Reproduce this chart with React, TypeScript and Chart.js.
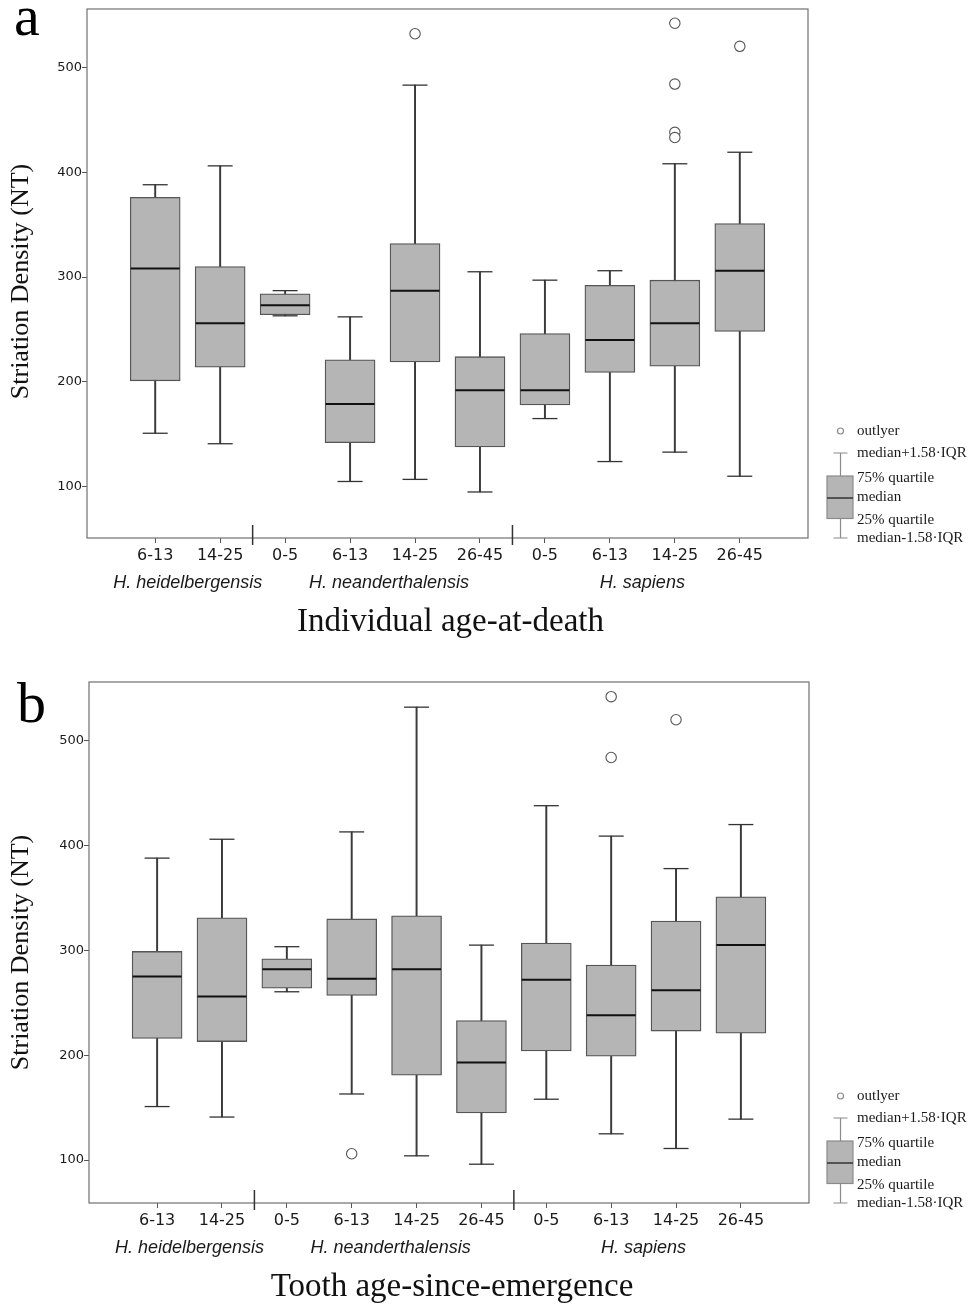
import React, { useEffect, useRef } from 'react';
import { Chart, registerables } from 'chart.js';

Chart.register(...registerables);

// ---------- shared categories ----------
const ageLabels = ['6-13', '14-25', '0-5', '6-13', '14-25', '26-45', '0-5', '6-13', '14-25', '26-45'];
const speciesNames = ['H. heidelbergensis', 'H. neanderthalensis', 'H. sapiens'];
const speciesCenters = [0.5, 3.6, 7.5];
const groupBreaks = [1.5, 5.5];
const yTickValues = [100, 200, 300, 400, 500];

// ---------- panel a: Individual age-at-death ----------
const aMin = [151, 141, 263, 105, 107, 95, 165, 124, 133, 110];
const aQ1 = [201, 214, 264, 142, 219, 138, 178, 209, 215, 248];
const aMedian = [308, 256, 273, 179, 287, 192, 192, 240, 256, 306];
const aQ3 = [376, 310, 284, 221, 332, 224, 246, 292, 297, 351];
const aMax = [388, 406, 287, 262, 483, 305, 297, 306, 408, 419];
const aOutliers: number[][] = [[], [], [], [], [532], [], [], [], [542, 484, 438, 433], [520]];

// ---------- panel b: Tooth age-since-emergence ----------
const bMin = [151, 141, 260.5, 163, 104, 96, 158, 125, 111, 139];
const bQ1 = [216, 213, 264, 257, 181, 145, 204, 199, 223, 221];
const bMedian = [275, 256, 282, 273, 282, 193, 272, 238, 262, 305];
const bQ3 = [299, 331, 292, 330, 333, 233, 307, 286, 328, 351];
const bMax = [388, 406, 303.5, 413, 532, 305, 438, 409, 378, 420];
const bOutliers: number[][] = [[], [], [], [106], [], [], [], [542, 484], [520], []];

const legendItems = ['outlyer', 'median+1.58\u00B7IQR', '75% quartile', 'median', '25% quartile', 'median-1.58\u00B7IQR'];

interface PanelSpec {
  letter: string;
  xTitle: string;
  min: number[];
  q1: number[];
  med: number[];
  q3: number[];
  max: number[];
  outliers: number[][];
  yMin: number;
  yMax: number;
  padTop: number;
  padRight: number;
  yWidth: number;
  xHeight: number;
  letterX: number;
  letterY: number;
  yTitleShift: number;
}

function decorPlugin(p: PanelSpec) {
  return {
    id: 'panelDecor',
    afterDraw(chart: any) {
      const { ctx, chartArea: ca } = chart;
      const xs = chart.scales.x;
      ctx.save();
      // frame
      ctx.strokeStyle = '#707070';
      ctx.lineWidth = 1.2;
      ctx.strokeRect(ca.left, ca.top, ca.right - ca.left, ca.bottom - ca.top);
      // group separators
      ctx.strokeStyle = '#333';
      ctx.lineWidth = 1.5;
      groupBreaks.forEach((g) => {
        const px = xs.getPixelForValue(g);
        ctx.beginPath();
        ctx.moveTo(px, ca.bottom - 13);
        ctx.lineTo(px, ca.bottom + 7);
        ctx.stroke();
      });
      // species labels
      ctx.fillStyle = '#1a1a1a';
      ctx.textAlign = 'center';
      ctx.textBaseline = 'middle';
      ctx.font = 'italic 18px "Liberation Sans", Arial, sans-serif';
      speciesNames.forEach((s, i) => {
        ctx.fillText(s, xs.getPixelForValue(speciesCenters[i]), ca.bottom + 45);
      });
      // x title
      ctx.fillStyle = '#111';
      ctx.font = '33px "Liberation Serif", "Times New Roman", serif';
      ctx.fillText(p.xTitle, (xs.left + xs.right) / 2 + 3, ca.bottom + 84);
      // y title
      ctx.save();
      ctx.translate(21, (ca.top + ca.bottom) / 2 + p.yTitleShift);
      ctx.rotate(-Math.PI / 2);
      ctx.font = '26px "Liberation Serif", "Times New Roman", serif';
      ctx.fillText('Striation Density (NT)', 0, 0);
      ctx.restore();
      // panel letter
      ctx.textAlign = 'left';
      ctx.textBaseline = 'alphabetic';
      ctx.font = '58px "Liberation Serif", "Times New Roman", serif';
      ctx.fillStyle = '#000';
      ctx.fillText(p.letter, p.letterX, p.letterY);
      // legend key
      const lx = 840.5;
      const lb = ca.bottom;
      ctx.strokeStyle = '#8a8a8a';
      ctx.lineWidth = 1.2;
      ctx.beginPath();
      ctx.arc(lx, lb - 107, 3, 0, Math.PI * 2);
      ctx.stroke();
      ctx.beginPath();
      ctx.moveTo(lx - 7, lb - 85);
      ctx.lineTo(lx + 7, lb - 85);
      ctx.moveTo(lx, lb - 85);
      ctx.lineTo(lx, lb - 62);
      ctx.moveTo(lx, lb - 19.5);
      ctx.lineTo(lx, lb);
      ctx.moveTo(lx - 7, lb);
      ctx.lineTo(lx + 7, lb);
      ctx.stroke();
      ctx.fillStyle = '#b5b5b5';
      ctx.fillRect(827, lb - 62, 26, 42.5);
      ctx.strokeRect(827, lb - 62, 26, 42.5);
      ctx.strokeStyle = '#333';
      ctx.lineWidth = 1.5;
      ctx.beginPath();
      ctx.moveTo(827, lb - 40);
      ctx.lineTo(853, lb - 40);
      ctx.stroke();
      ctx.fillStyle = '#1a1a1a';
      ctx.font = '15px "Liberation Serif", "Times New Roman", serif';
      ctx.textBaseline = 'middle';
      const offs = [-107, -85, -60, -41, -18, 0];
      legendItems.forEach((t, i) => ctx.fillText(t, 857, lb + offs[i]));
      ctx.restore();
    },
  };
}

function buildConfig(p: PanelSpec): any {
  const idx = ageLabels.map((_, i) => i);
  const whiskers = idx.map((i) => ({ x: i, y: [p.min[i], p.max[i]] }));
  const boxes = idx.map((i) => ({ x: i, y: [p.q1[i], p.q3[i]] }));
  const caps = idx.flatMap((i) => [{ x: i, y: p.min[i] }, { x: i, y: p.max[i] }]);
  const medians = idx.map((i) => ({ x: i, y: p.med[i] }));
  const outs = idx.flatMap((i) => p.outliers[i].map((v) => ({ x: i, y: v })));
  return {
    type: 'bar',
    data: {
      datasets: [
        {
          type: 'scatter',
          label: 'outliers',
          data: outs,
          order: 0,
          pointStyle: 'circle',
          pointRadius: 5.2,
          pointBackgroundColor: '#ffffff',
          pointBorderColor: '#555',
          pointBorderWidth: 1.1,
          showLine: false,
        },
        {
          type: 'scatter',
          label: 'median',
          data: medians,
          order: 1,
          pointStyle: 'line',
          pointRadius: 24.5,
          pointBorderColor: '#111',
          pointBorderWidth: 2,
          showLine: false,
        },
        {
          type: 'bar',
          label: 'box',
          data: boxes,
          order: 2,
          grouped: false,
          barThickness: 50,
          backgroundColor: '#b5b5b5',
          borderColor: '#555',
          borderWidth: 1.3,
          borderSkipped: false,
        },
        {
          type: 'scatter',
          label: 'caps',
          data: caps,
          order: 3,
          pointStyle: 'line',
          pointRadius: 12.5,
          pointBorderColor: '#333',
          pointBorderWidth: 1.3,
          showLine: false,
        },
        {
          type: 'bar',
          label: 'whisker',
          data: whiskers,
          order: 4,
          grouped: false,
          barThickness: 1.3,
          backgroundColor: '#3a3a3a',
          borderWidth: 0,
        },
      ],
    },
    options: {
      responsive: false,
      animation: false,
      events: [],
      layout: { autoPadding: false, padding: { top: p.padTop, right: p.padRight, left: 0, bottom: 0 } },
      plugins: { legend: { display: false }, tooltip: { enabled: false }, title: { display: false } },
      scales: {
        x: {
          type: 'linear',
          min: -1.05,
          max: 10.05,
          offset: false,
          afterFit: (s: any) => {
            s.height = p.xHeight;
            s.paddingLeft = 0;
            s.paddingRight = 0;
          },
          afterBuildTicks: (s: any) => {
            s.ticks = idx.map((v) => ({ value: v }));
          },
          grid: { display: true, drawOnChartArea: false, drawTicks: true, tickLength: 5, color: '#555', offset: false },
          border: { display: false },
          ticks: {
            autoSkip: false,
            maxRotation: 0,
            padding: 3,
            color: '#1a1a1a',
            font: { family: '"DejaVu Sans", Verdana, sans-serif', size: 16 },
            callback: (v: number) => ageLabels[Math.round(v)] ?? '',
          },
        },
        y: {
          type: 'linear',
          min: p.yMin,
          max: p.yMax,
          afterFit: (s: any) => {
            s.width = p.yWidth;
            s.paddingTop = 0;
            s.paddingBottom = 0;
          },
          afterBuildTicks: (s: any) => {
            s.ticks = yTickValues.map((v) => ({ value: v }));
          },
          grid: { display: true, drawOnChartArea: false, drawTicks: true, tickLength: 5, color: '#555' },
          border: { display: false },
          ticks: {
            padding: 0,
            color: '#1a1a1a',
            font: { family: '"DejaVu Sans", Verdana, sans-serif', size: 13 },
          },
        },
      },
    },
    plugins: [decorPlugin(p)],
  };
}

const panelA: PanelSpec = {
  letter: 'a',
  xTitle: 'Individual age-at-death',
  min: aMin, q1: aQ1, med: aMedian, q3: aQ3, max: aMax, outliers: aOutliers,
  yMin: 51.1, yMax: 555.6,
  padTop: 9, padRight: 164, yWidth: 87, xHeight: 114,
  letterX: 14, letterY: 35, yTitleShift: 8,
};

const panelB: PanelSpec = {
  letter: 'b',
  xTitle: 'Tooth age-since-emergence',
  min: bMin, q1: bQ1, med: bMedian, q3: bQ3, max: bMax, outliers: bOutliers,
  yMin: 59, yMax: 556,
  padTop: 30, padRight: 163, yWidth: 89, xHeight: 102,
  letterX: 17, letterY: 70, yTitleShift: 10,
};

function Panel({ spec, top, height }: { spec: PanelSpec; top: number; height: number }) {
  const ref = useRef<HTMLCanvasElement | null>(null);
  useEffect(() => {
    if (!ref.current) return;
    const chart = new Chart(ref.current, buildConfig(spec));
    return () => chart.destroy();
  }, [spec]);
  return (
    <div style={{ position: 'absolute', left: 0, top, width: 972, height }}>
      <canvas ref={ref} width={972} height={height} style={{ width: 972, height, display: 'block' }} />
    </div>
  );
}

export default function App() {
  return (
    <div style={{ position: 'absolute', left: 0, top: 0, width: 972, height: 1305, overflow: 'hidden', background: '#fff' }}>
      <Panel spec={panelA} top={0} height={652} />
      <Panel spec={panelB} top={652} height={653} />
    </div>
  );
}
